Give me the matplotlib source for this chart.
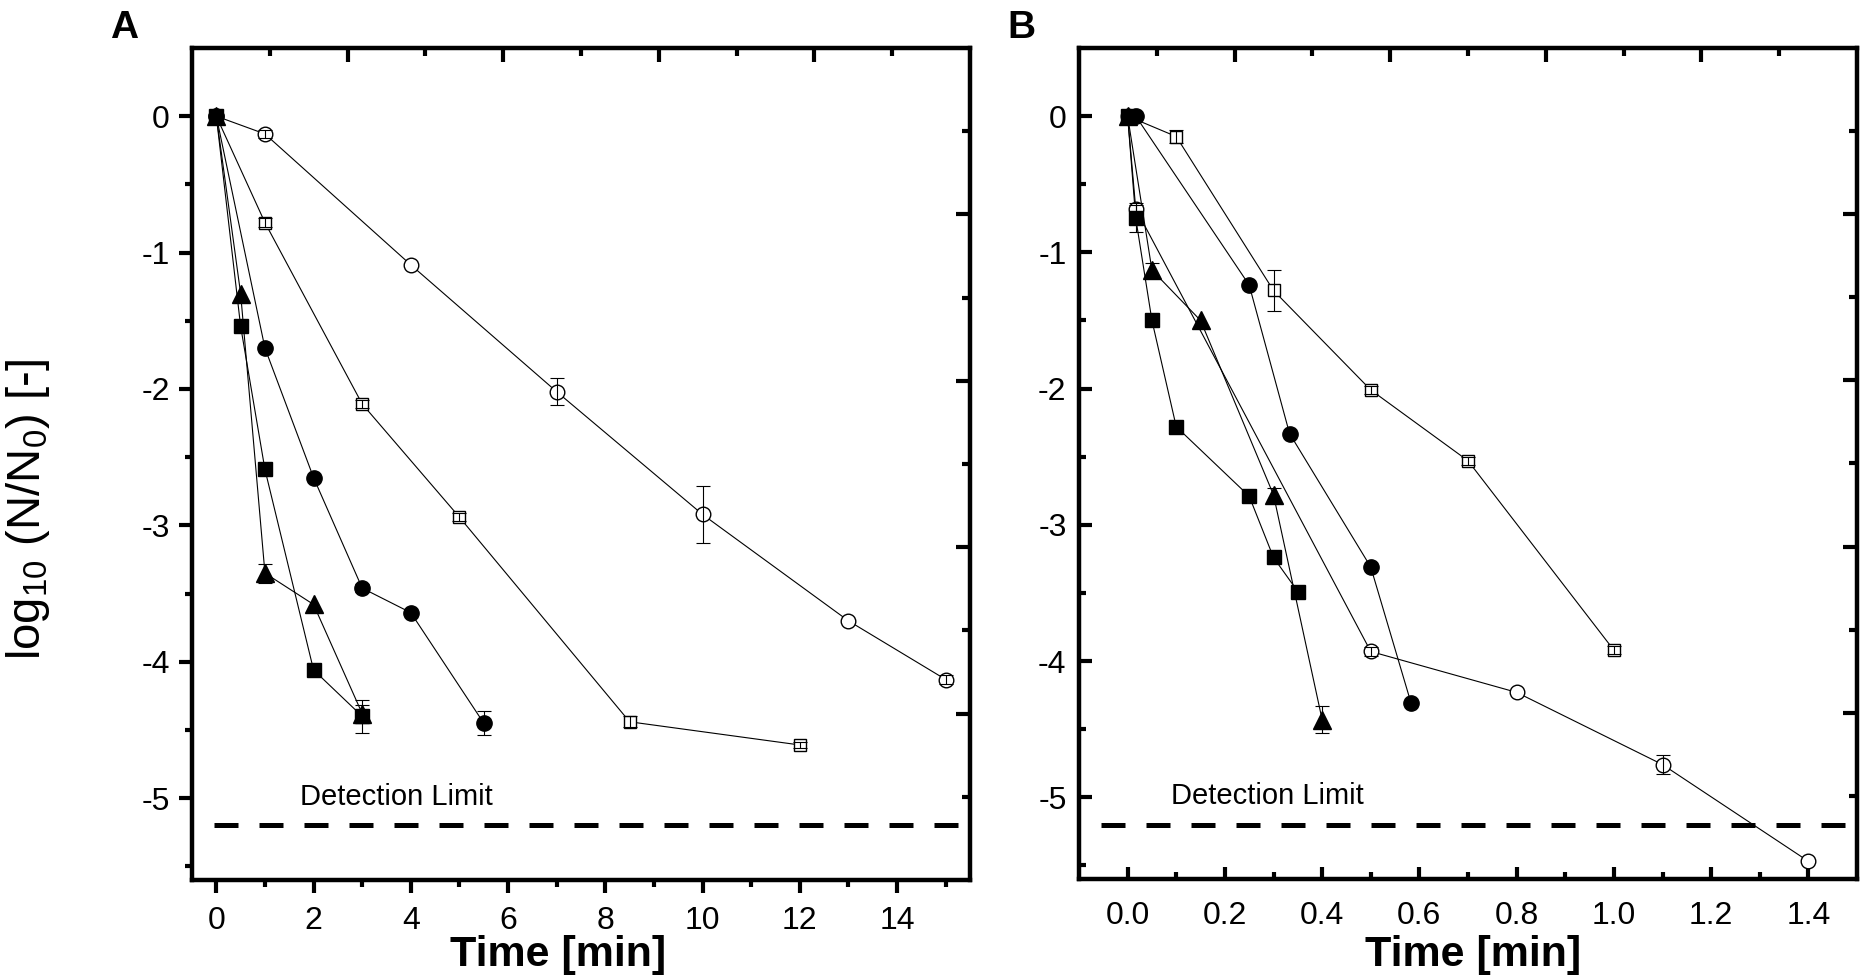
import numpy as np
import matplotlib
matplotlib.use("Agg")
import matplotlib.pyplot as plt
from matplotlib.ticker import FixedLocator, FormatStrFormatter

plt.rcParams['font.family'] = ['Liberation Sans', 'DejaVu Sans']
plt.rcParams['axes.unicode_minus'] = False
plt.rcParams['mathtext.fontset'] = 'custom'
plt.rcParams['mathtext.rm'] = 'Liberation Sans'
plt.rcParams['mathtext.it'] = 'Liberation Sans'
plt.rcParams['mathtext.bf'] = 'Liberation Sans:bold'

nan = np.nan

# ---------------- Panel A data (time in min) ----------------
a_oc_t = [0, 1, 4, 7, 10, 13, 15]
a_oc_y = [0, -0.13, -1.09, -2.02, -2.92, -3.70, -4.13]
a_oc_e = [nan, 0.03, nan, 0.10, 0.21, nan, 0.03]

a_os_t = [0, 1, 3, 5, 8.5, 12]
a_os_y = [0, -0.78, -2.11, -2.94, -4.44, -4.61]
a_os_e = [nan, 0.03, 0.03, 0.03, 0.04, 0.02]

a_fc_t = [0, 1, 2, 3, 4, 5.5]
a_fc_y = [0, -1.70, -2.65, -3.46, -3.64, -4.45]
a_fc_e = [nan, nan, nan, 0.03, nan, 0.09]

a_fs_t = [0, 0.5, 1, 2, 3]
a_fs_y = [0, -1.54, -2.59, -4.06, -4.40]
a_fs_e = [nan, nan, 0.04, nan, 0.12]

a_tr_t = [0, 0.5, 1, 2, 3]
a_tr_y = [0, -1.30, -3.35, -3.58, -4.38]
a_tr_e = [nan, nan, 0.07, nan, 0.06]

# ---------------- Panel B data (time in min) ----------------
b_oc_t = [0, 0.0167, 0.5, 0.8, 1.1, 1.4]
b_oc_y = [0, -0.68, -3.93, -4.23, -4.76, -5.47]
b_oc_e = [nan, 0.04, 0.03, nan, 0.07, nan]

b_os_t = [0, 0.1, 0.3, 0.5, 0.7, 1.0]
b_os_y = [0, -0.15, -1.28, -2.01, -2.53, -3.92]
b_os_e = [nan, 0.05, 0.15, 0.03, 0.03, 0.03]

b_fc_t = [0.0167, 0.25, 0.333, 0.5, 0.583]
b_fc_y = [0, -1.24, -2.33, -3.31, -4.31]
b_fc_e = [nan, nan, nan, nan, nan]

b_fs_t = [0, 0.0167, 0.05, 0.1, 0.25, 0.3, 0.35]
b_fs_y = [0, -0.75, -1.50, -2.28, -2.79, -3.24, -3.49]
b_fs_e = [nan, 0.10, nan, nan, nan, nan, nan]

b_tr_t = [0, 0.05, 0.15, 0.3, 0.4]
b_tr_y = [0, -1.13, -1.50, -2.78, -4.43]
b_tr_e = [nan, 0.05, nan, 0.05, 0.10]

a_xticks = [0, 2, 4, 6, 8, 10, 12, 14]
b_xticks = [0.0, 0.2, 0.4, 0.6, 0.8, 1.0, 1.2, 1.4]
yticks = [0, -1, -2, -3, -4, -5]
detection_limit = -5.2

W, H = 1866, 980
fig = plt.figure(figsize=(W / 100, H / 100), dpi=100)

def rect(l, r, t, b):
    return [l / W, 1 - b / H, (r - l) / W, (b - t) / H]

rA = rect(192, 970, 48, 880)
rB = rect(1079, 1857, 48, 879)
axA = fig.add_axes(rA)
axB = fig.add_axes(rB)

def series(ax, t, y, e, marker, filled, ms):
    ax.plot(t, y, '-', color='black', lw=0.8, zorder=2)
    ax.plot(t, y, linestyle='none', marker=marker, ms=ms,
            mfc='black' if filled else 'white', mec='black',
            mew=1.0, zorder=3)
    ax.errorbar(t, y, yerr=e, fmt='none', ecolor='black', elinewidth=0.8,
                capsize=5, capthick=0.8, zorder=4)

def draw_panel(ax, data):
    for (t, y, e, m, f, ms) in data:
        series(ax, t, y, e, m, f, ms)

draw_panel(axA, [
    (a_oc_t, a_oc_y, a_oc_e, 'o', False, 10.5),
    (a_os_t, a_os_y, a_os_e, 's', False, 9),
    (a_fc_t, a_fc_y, a_fc_e, 'o', True, 11),
    (a_fs_t, a_fs_y, a_fs_e, 's', True, 9.5),
    (a_tr_t, a_tr_y, a_tr_e, '^', True, 12.5),
])
draw_panel(axB, [
    (b_oc_t, b_oc_y, b_oc_e, 'o', False, 10.5),
    (b_os_t, b_os_y, b_os_e, 's', False, 9),
    (b_fc_t, b_fc_y, b_fc_e, 'o', True, 11),
    (b_fs_t, b_fs_y, b_fs_e, 's', True, 9.5),
    (b_tr_t, b_tr_y, b_tr_e, '^', True, 12.5),
])

for ax, xl, xt, xmin_minor, fmt, txtx in [
        (axA, (-0.5, 15.5), a_xticks, np.arange(1, 16, 2), '%d', 0.139),
        (axB, (-0.1, 1.5), b_xticks, np.arange(0.1, 1.5, 0.2), '%.1f', 0.118)]:
    ax.set_xlim(*xl)
    ax.set_ylim(-5.6, 0.5)
    ax.set_xticks(xt)
    ax.xaxis.set_major_formatter(FormatStrFormatter(fmt))
    ax.xaxis.set_minor_locator(FixedLocator(list(xmin_minor)))
    ax.set_yticks(yticks)
    ax.yaxis.set_major_formatter(FormatStrFormatter('%d'))
    ax.yaxis.set_minor_locator(FixedLocator(list(np.arange(-5.5, 0.1, 1.0))))
    for s in ax.spines.values():
        s.set_linewidth(3.2)
    ax.axhline(detection_limit, xmin=0.028, xmax=1.0, color='black', lw=3.6,
               dashes=(4.8, 4.2), zorder=1)
    ax.text(txtx, -5.05, 'Detection Limit', transform=ax.get_yaxis_transform(),
            fontsize=21, ha='left', va='baseline')

axA.tick_params(axis='both', which='major', direction='out', length=9.5, width=3,
                labelsize=23, top=False, right=False)
axA.tick_params(axis='both', which='minor', direction='out', length=5, width=3,
                top=False, right=False)
axA.tick_params(axis='x', which='major', pad=9)
axA.tick_params(axis='y', which='major', pad=6.5)

axB.tick_params(axis='both', which='major', direction='in', length=9, width=3,
                labelsize=23, top=False, right=False)
axB.tick_params(axis='both', which='minor', direction='in', length=5, width=3,
                top=False, right=False)
axB.tick_params(axis='x', which='major', pad=16)
axB.tick_params(axis='y', which='major', pad=9)

# secondary (unlabelled) top / right tick scales
for r in (rA, rB):
    ov = fig.add_axes(r, facecolor='none', zorder=5)
    ov.set_xlim(0, 1)
    ov.set_ylim(0, 1)
    for s in ov.spines.values():
        s.set_visible(False)
    ov.set_xticks([0.2, 0.4, 0.6, 0.8])
    ov.set_yticks([0.2, 0.4, 0.6, 0.8])
    ov.xaxis.set_minor_locator(FixedLocator([0.1, 0.3, 0.5, 0.7, 0.9]))
    ov.yaxis.set_minor_locator(FixedLocator([0.1, 0.3, 0.5, 0.7, 0.9]))
    ov.tick_params(which='both', direction='in', width=3, bottom=False, left=False,
                   top=True, right=True, labelbottom=False, labelleft=False,
                   labeltop=False, labelright=False)
    ov.tick_params(which='major', length=10)
    ov.tick_params(which='minor', length=5.5)

fig.text(558 / W, 1 - 966 / H, 'Time [min]', fontsize=31, fontweight='bold',
         ha='center', va='baseline')
fig.text(1473 / W, 1 - 966 / H, 'Time [min]', fontsize=31, fontweight='bold',
         ha='center', va='baseline')
fig.text(28 / W, 1 - 509 / H, r'log$_{10}$ (N/N$_0$) [-]', fontsize=34,
         rotation=90, ha='center', va='center')
fig.text(110 / W, 1 - 38 / H, 'A', fontsize=28, fontweight='bold',
         ha='left', va='baseline')
fig.text(1007 / W, 1 - 38 / H, 'B', fontsize=28, fontweight='bold',
         ha='left', va='baseline')

fig.savefig('out.png', dpi=100)
